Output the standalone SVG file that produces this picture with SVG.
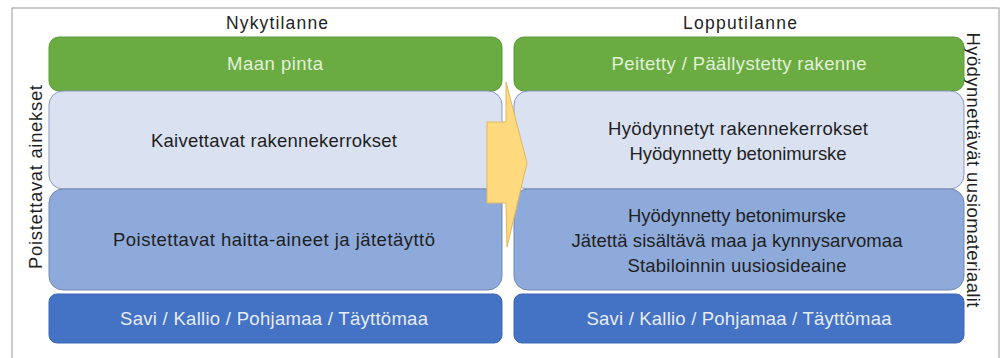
<svg xmlns="http://www.w3.org/2000/svg" width="1004" height="358" viewBox="0 0 1004 358">
<style>
text{font-family:"Liberation Sans",Arial,sans-serif;font-size:18.5px;text-anchor:middle;fill:#1f1f1f}
.g{fill:#6aac42;stroke:#5b9a3a;stroke-width:1}
.l{fill:#dae1f1;stroke:#8a9bbd;stroke-width:1}
.m{fill:#8eaadb;stroke:#7489b0;stroke-width:1}
.d{fill:#4472c4;stroke:#3d66b0;stroke-width:1}
.tg{fill:#e2f0d9}
.td{fill:#e6ecf7}
.t{font-size:17.5px}
</style>
<rect x="0" y="0" width="1004" height="358" fill="#ffffff"/>
<rect x="12" y="8" width="987" height="360" fill="none" stroke="#a8a8a8" stroke-width="1.2"/>
<g id="title-left"><text class="t" x="277" y="29" textLength="102">Nykytilanne</text></g>
<g id="title-right"><text class="t" x="740" y="29" textLength="114">Lopputilanne</text></g>
<g id="label-left"><text transform="translate(42,177) rotate(-90)" textLength="184">Poistettavat ainekset</text></g>
<g id="label-right"><text transform="translate(967,170) rotate(90)" textLength="275">Hyödynnettävät uusiomateriaalit</text></g>
<g id="left-surface"><rect class="g" x="49" y="37" width="453" height="54" rx="10"/><text class="tg" x="275" y="70" textLength="96">Maan pinta</text></g>
<g id="left-structure"><rect class="l" x="49" y="91" width="453" height="98" rx="14"/><text x="274" y="147" textLength="246">Kaivettavat rakennekerrokset</text></g>
<g id="left-hazard"><rect class="m" x="49" y="189" width="453" height="101" rx="14"/><text x="274" y="246" textLength="322">Poistettavat haitta-aineet ja jätetäyttö</text></g>
<g id="left-base"><rect class="d" x="49" y="294" width="453" height="49" rx="8"/><text class="td" x="274" y="325" textLength="308">Savi / Kallio / Pohjamaa / Täyttömaa</text></g>
<g id="right-surface"><rect class="g" x="514" y="37" width="450" height="54" rx="10"/><text class="tg" x="739" y="70" textLength="255">Peitetty / Päällystetty rakenne</text></g>
<g id="right-structure"><rect class="l" x="514" y="91" width="450" height="98" rx="14"/><text x="738" y="135" textLength="260">Hyödynnetyt rakennekerrokset</text><text x="738" y="160" textLength="217">Hyödynnetty betonimurske</text></g>
<g id="right-reuse"><rect class="m" x="514" y="189" width="450" height="101" rx="14"/><text x="737" y="222" textLength="218">Hyödynnetty betonimurske</text><text x="737" y="247" textLength="331">Jätettä sisältävä maa ja kynnysarvomaa</text><text x="737" y="272" textLength="219">Stabiloinnin uusiosideaine</text></g>
<g id="right-base"><rect class="d" x="514" y="294" width="450" height="49" rx="8"/><text class="td" x="739" y="325" textLength="305">Savi / Kallio / Pohjamaa / Täyttömaa</text></g>
<g id="connectors"><polygon points="487,122 506,122 506,82 527,163 507,247 506,203 487,203" fill="#ffd97e" stroke="#e0b760" stroke-width="1"/></g>
</svg>
